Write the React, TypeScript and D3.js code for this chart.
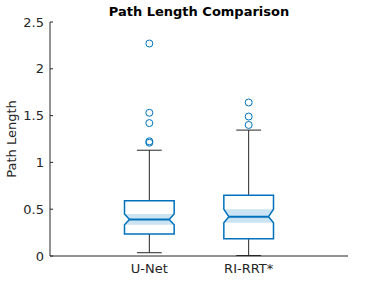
import React from 'react'
import * as d3 from 'd3'

const categories = ['U-Net', 'RI-RRT*']
const q1 = [0.235, 0.185]
const medians = [0.39, 0.42]
const q3 = [0.59, 0.648]
const notchLow = [0.334, 0.356]
const notchHigh = [0.449, 0.5]
const whiskerLow = [0.035, 0.005]
const whiskerHigh = [1.13, 1.345]
const outliers = [
  [2.27, 1.53, 1.42, 1.225, 1.21],
  [1.64, 1.49, 1.4],
]
const yTicks = [0, 0.5, 1, 1.5, 2, 2.5]

const boxColor = '#0072BD'
const bandColor = '#CCE3F2'
const axisColor = '#262626'
const font = 'DejaVu Sans, sans-serif'

const App: React.FC = () => {
  const width = 384
  const height = 288
  const left = 50
  const right = 348
  const top = 22
  const bottom = 256

  const xScale = d3.scaleLinear().domain([0, 3]).range([left, right])
  const yScale = d3.scaleLinear().domain([0, 2.5]).range([bottom, top])

  const boxW = xScale(0.5) - xScale(0)
  const inset = boxW * 0.1

  const createBoxes = () => {
    return categories.map((cat, i) => {
      const cx = xScale(i + 1)
      const x0 = cx - boxW / 2
      const x1 = cx + boxW / 2
      const yq1 = yScale(q1[i])
      const yq3 = yScale(q3[i])
      const ym = yScale(medians[i])
      const ynl = yScale(notchLow[i])
      const ynh = yScale(notchHigh[i])
      const outline = [
        [x0, yq3], [x1, yq3], [x1, ynh], [x1 - inset, ym], [x1, ynl], [x1, yq1],
        [x0, yq1], [x0, ynl], [x0 + inset, ym], [x0, ynh],
      ] as [number, number][]
      const band = [
        [x0, ynh], [x1, ynh], [x1 - inset, ym], [x1, ynl], [x0, ynl], [x0 + inset, ym],
      ] as [number, number][]
      const line = d3.line()
      const capW = boxW / 2
      return (
        <g key={cat}>
          <line x1={cx} x2={cx} y1={yq3} y2={yScale(whiskerHigh[i])} stroke={axisColor} strokeWidth={1} />
          <line x1={cx} x2={cx} y1={yq1} y2={yScale(whiskerLow[i])} stroke={axisColor} strokeWidth={1} />
          <line x1={cx - capW / 2} x2={cx + capW / 2} y1={yScale(whiskerHigh[i])} y2={yScale(whiskerHigh[i])} stroke={axisColor} strokeWidth={1} />
          <line x1={cx - capW / 2} x2={cx + capW / 2} y1={yScale(whiskerLow[i])} y2={yScale(whiskerLow[i])} stroke={axisColor} strokeWidth={1} />
          <path d={line(outline) + 'Z'} fill="white" stroke="none" />
          <path d={line(band) + 'Z'} fill={bandColor} stroke="none" />
          <path d={line(outline) + 'Z'} fill="none" stroke={boxColor} strokeWidth={1.5} />
          <line x1={x0 + inset} x2={x1 - inset} y1={ym} y2={ym} stroke={boxColor} strokeWidth={2} />
          {outliers[i].map((v, j) => (
            <circle key={j} cx={cx} cy={yScale(v)} r={3.5} fill="none" stroke={boxColor} strokeWidth={1} />
          ))}
        </g>
      )
    })
  }

  return (
    <svg width={width} height={height} style={{ position: 'absolute', left: 0, top: 0 }}>
      <rect width={width} height={height} fill="white" />
      {createBoxes()}
      <line x1={left} x2={left} y1={top} y2={bottom} stroke={axisColor} strokeWidth={1} />
      <line x1={left} x2={right} y1={bottom} y2={bottom} stroke={axisColor} strokeWidth={1} />
      {yTicks.map((t) => (
        <g key={t}>
          <line x1={left} x2={left + 3} y1={yScale(t)} y2={yScale(t)} stroke={axisColor} />
          <text x={left - 6} y={yScale(t)} dy="0.35em" textAnchor="end" fontFamily={font} fontSize={13} fill={axisColor}>
            {t}
          </text>
        </g>
      ))}
      {categories.map((cat, i) => (
        <text key={cat} x={xScale(i + 1)} y={273} textAnchor="middle" fontFamily={font} fontSize={13} fill={axisColor}>
          {cat}
        </text>
      ))}
      <text x={16} y={(top + bottom) / 2} transform={`rotate(-90 16 ${(top + bottom) / 2})`} textAnchor="middle" fontFamily={font} fontSize={13} fill={axisColor}>
        Path Length
      </text>
      <text x={(left + right) / 2} y={16} textAnchor="middle" fontFamily={font} fontSize={13} fontWeight="bold" fill="black">
        Path Length Comparison
      </text>
    </svg>
  )
}

export default App
